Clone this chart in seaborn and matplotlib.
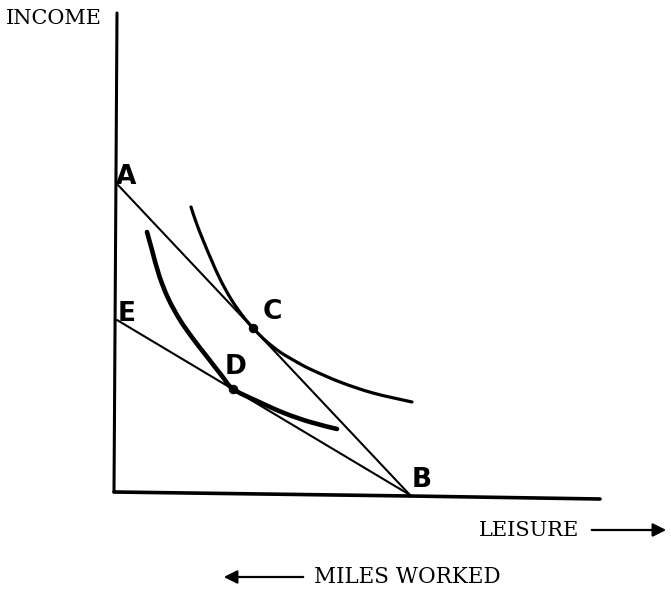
import numpy as np
import pandas as pd
import seaborn as sns
import matplotlib.pyplot as plt
from matplotlib.path import Path
from matplotlib.patches import PathPatch

# Coordinates measured from the corner of the hand-drawn axes (pixel-like units)
# Axes
y_axis_x = [3, 0]
y_axis_y = [479, 0]
x_axis_x = [0, 296, 486]
x_axis_y = [0, -4, -7]

# Budget lines: A-B and E-B
budget_ab_x = [4, 296]
budget_ab_y = [307, -3]
budget_eb_x = [3, 296]
budget_eb_y = [172, -3]

# Higher indifference curve (through C)
ic_high_x = [77, 82, 89, 97, 106, 117, 128, 139, 152, 166, 181, 196, 226, 259, 298]
ic_high_y = [285, 270, 252, 233, 213, 193, 177, 164, 151, 140, 131, 123, 110, 99, 90]

# Lower indifference curve (through D)
ic_low_x = [33, 38, 45, 54, 66, 80, 94, 108, 119, 143, 170, 196, 223]
ic_low_y = [260, 242, 217, 194, 172, 152, 134, 116, 103, 91, 79, 70, 63]

# Tangency points
point_names = ["C", "D"]
point_x = [139, 119]
point_y = [164, 103]

# Hand-lettered point labels
label_names = ["A", "E", "C", "D", "B"]
label_x = [12, 13, 158, 122, 308]
label_y = [315, 178, 180, 125, 12]


def draw_line(ax, xs, ys, lw):
    df = pd.DataFrame({"x": xs, "y": ys})
    sns.lineplot(data=df, x="x", y="y", ax=ax, color="black", linewidth=lw,
                 estimator=None, sort=False, solid_capstyle="round")


def draw_curve(ax, xs, ys, lw):
    # smooth freehand stroke through the measured points (Catmull-Rom -> Bezier)
    p = np.column_stack([xs, ys]).astype(float)
    verts = [p[0]]
    codes = [Path.MOVETO]
    for i in range(len(p) - 1):
        p0 = p[i - 1] if i > 0 else p[i]
        p3 = p[i + 2] if i + 2 < len(p) else p[i + 1]
        c1 = p[i] + (p[i + 1] - p0) / 6
        c2 = p[i + 1] - (p3 - p[i]) / 6
        verts += [c1, c2, p[i + 1]]
        codes += [Path.CURVE4] * 3
    patch = PathPatch(Path(verts, codes), facecolor="none", edgecolor="black",
                      lw=lw, capstyle="round", joinstyle="round")
    ax.add_patch(patch)


sns.set_theme(style="white")

fig = plt.figure(figsize=(6.71, 5.89), dpi=100)
ax = fig.add_axes([0, 0, 1, 1])

draw_line(ax, y_axis_x, y_axis_y, 2.2)
draw_line(ax, x_axis_x, x_axis_y, 2.6)
draw_line(ax, budget_ab_x, budget_ab_y, 1.5)
draw_line(ax, budget_eb_x, budget_eb_y, 1.5)
draw_curve(ax, ic_high_x, ic_high_y, 2.3)
draw_curve(ax, ic_low_x, ic_low_y, 3.3)

pts = pd.DataFrame({"x": point_x, "y": point_y, "name": point_names})
sns.scatterplot(data=pts, x="x", y="y", ax=ax, color="black", s=40,
                edgecolor="black", zorder=5)

for name, lx, ly in zip(label_names, label_x, label_y):
    ax.text(lx, ly, name, fontsize=19, fontfamily="DejaVu Sans",
            fontweight="semibold", ha="center", va="center", color="black")

# Axis captions
ax.text(-60, 474, "INCOME", fontsize=15, fontfamily="DejaVu Serif",
        ha="center", va="center", color="black")
ax.text(415, -38, "LEISURE", fontsize=15, fontfamily="DejaVu Serif",
        ha="center", va="center", color="black")
ax.annotate("", xy=(555, -38), xytext=(475, -38),
            arrowprops=dict(arrowstyle="-|>", color="black", lw=1.6,
                            mutation_scale=20))
ax.text(293, -85, "MILES WORKED", fontsize=15.5, fontfamily="DejaVu Serif",
        ha="center", va="center", color="black")
ax.annotate("", xy=(107, -85), xytext=(192, -85),
            arrowprops=dict(arrowstyle="-|>", color="black", lw=1.6,
                            mutation_scale=20))

ax.set_xlim(-114, 557)
ax.set_ylim(-97, 492)
ax.set_axis_off()

fig.savefig("out.png", dpi=100, facecolor="white")
